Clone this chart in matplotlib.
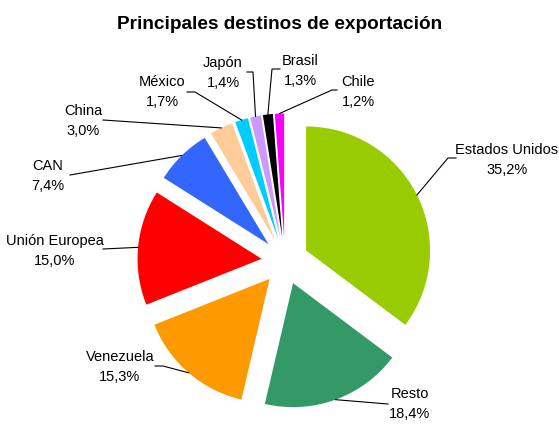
import numpy as np
import matplotlib.pyplot as plt

# Datos
destinos = ['Estados Unidos', 'Resto', 'Venezuela', 'Unión Europea', 'CAN',
            'China', 'México', 'Japón', 'Brasil', 'Chile']
porcentajes = [35.2, 18.4, 15.3, 15.0, 7.4, 3.0, 1.7, 1.4, 1.3, 1.2]
colores = ['#99CC00', '#339966', '#FF9900', '#FF0000', '#3366FF',
           '#FFCC99', '#00CCFF', '#CC99FF', '#000000', '#FF00FF']

# Posiciones de las etiquetas (pixeles) y codos de las lineas guia
pos_texto = [(507, 160), (410, 404), (120, 367), (55, 251), (48, 176),
             (83, 121), (162, 92), (223, 73), (300, 71), (358, 92)]
codos = [[(456, 158), (448, 158)], [(388, 404)], [(155, 366), (163, 366)],
         [(103, 249)], [(70, 175)], [(103, 120)], [(187, 92), (195, 92)],
         [(247, 72), (253, 72)], [(280, 69), (272, 69)], [(337, 90), (332, 90)]]

W, H = 559, 424
cx, cy, R = 285, 261, 124
explode = 0.19

def px(x, y):
    return ((x - cx) / R, (cy - y) / R)

fuente = ['Liberation Sans', 'DejaVu Sans']

fig = plt.figure(figsize=(W / 100, H / 100), dpi=100)
ax = fig.add_axes([0, 0, 1, 1])

wedges, _ = ax.pie(porcentajes, colors=colores, startangle=90, counterclock=False,
                   explode=[explode] * len(porcentajes), radius=1,
                   wedgeprops=dict(linewidth=0))

for w, nombre, p, tpos, cods in zip(wedges, destinos, porcentajes, pos_texto, codos):
    ang = np.deg2rad((w.theta1 + w.theta2) / 2)
    ox, oy = w.center
    ancla = (ox + np.cos(ang), oy + np.sin(ang))
    pts = [px(*c) for c in cods] + [ancla]
    xs, ys = zip(*pts)
    ax.plot(xs, ys, color='black', lw=0.8)
    tx, ty = px(*tpos)
    etiqueta = nombre + '\n' + f'{p:.1f}'.replace('.', ',') + '%'
    ax.text(tx, ty, etiqueta, ha='center', va='center', fontsize=10.5,
            family=fuente, linespacing=1.6)

ax.set_xlim(px(0, 0)[0], px(W, 0)[0])
ax.set_ylim(px(0, H)[1], px(0, 0)[1])
ax.set_aspect('auto')
ax.axis('off')

fig.text(0.5, 1 - 29 / H, 'Principales destinos de exportación', ha='center',
         va='baseline', fontsize=13.7, fontweight='bold', family=fuente)

fig.savefig('out.png', dpi=100)
